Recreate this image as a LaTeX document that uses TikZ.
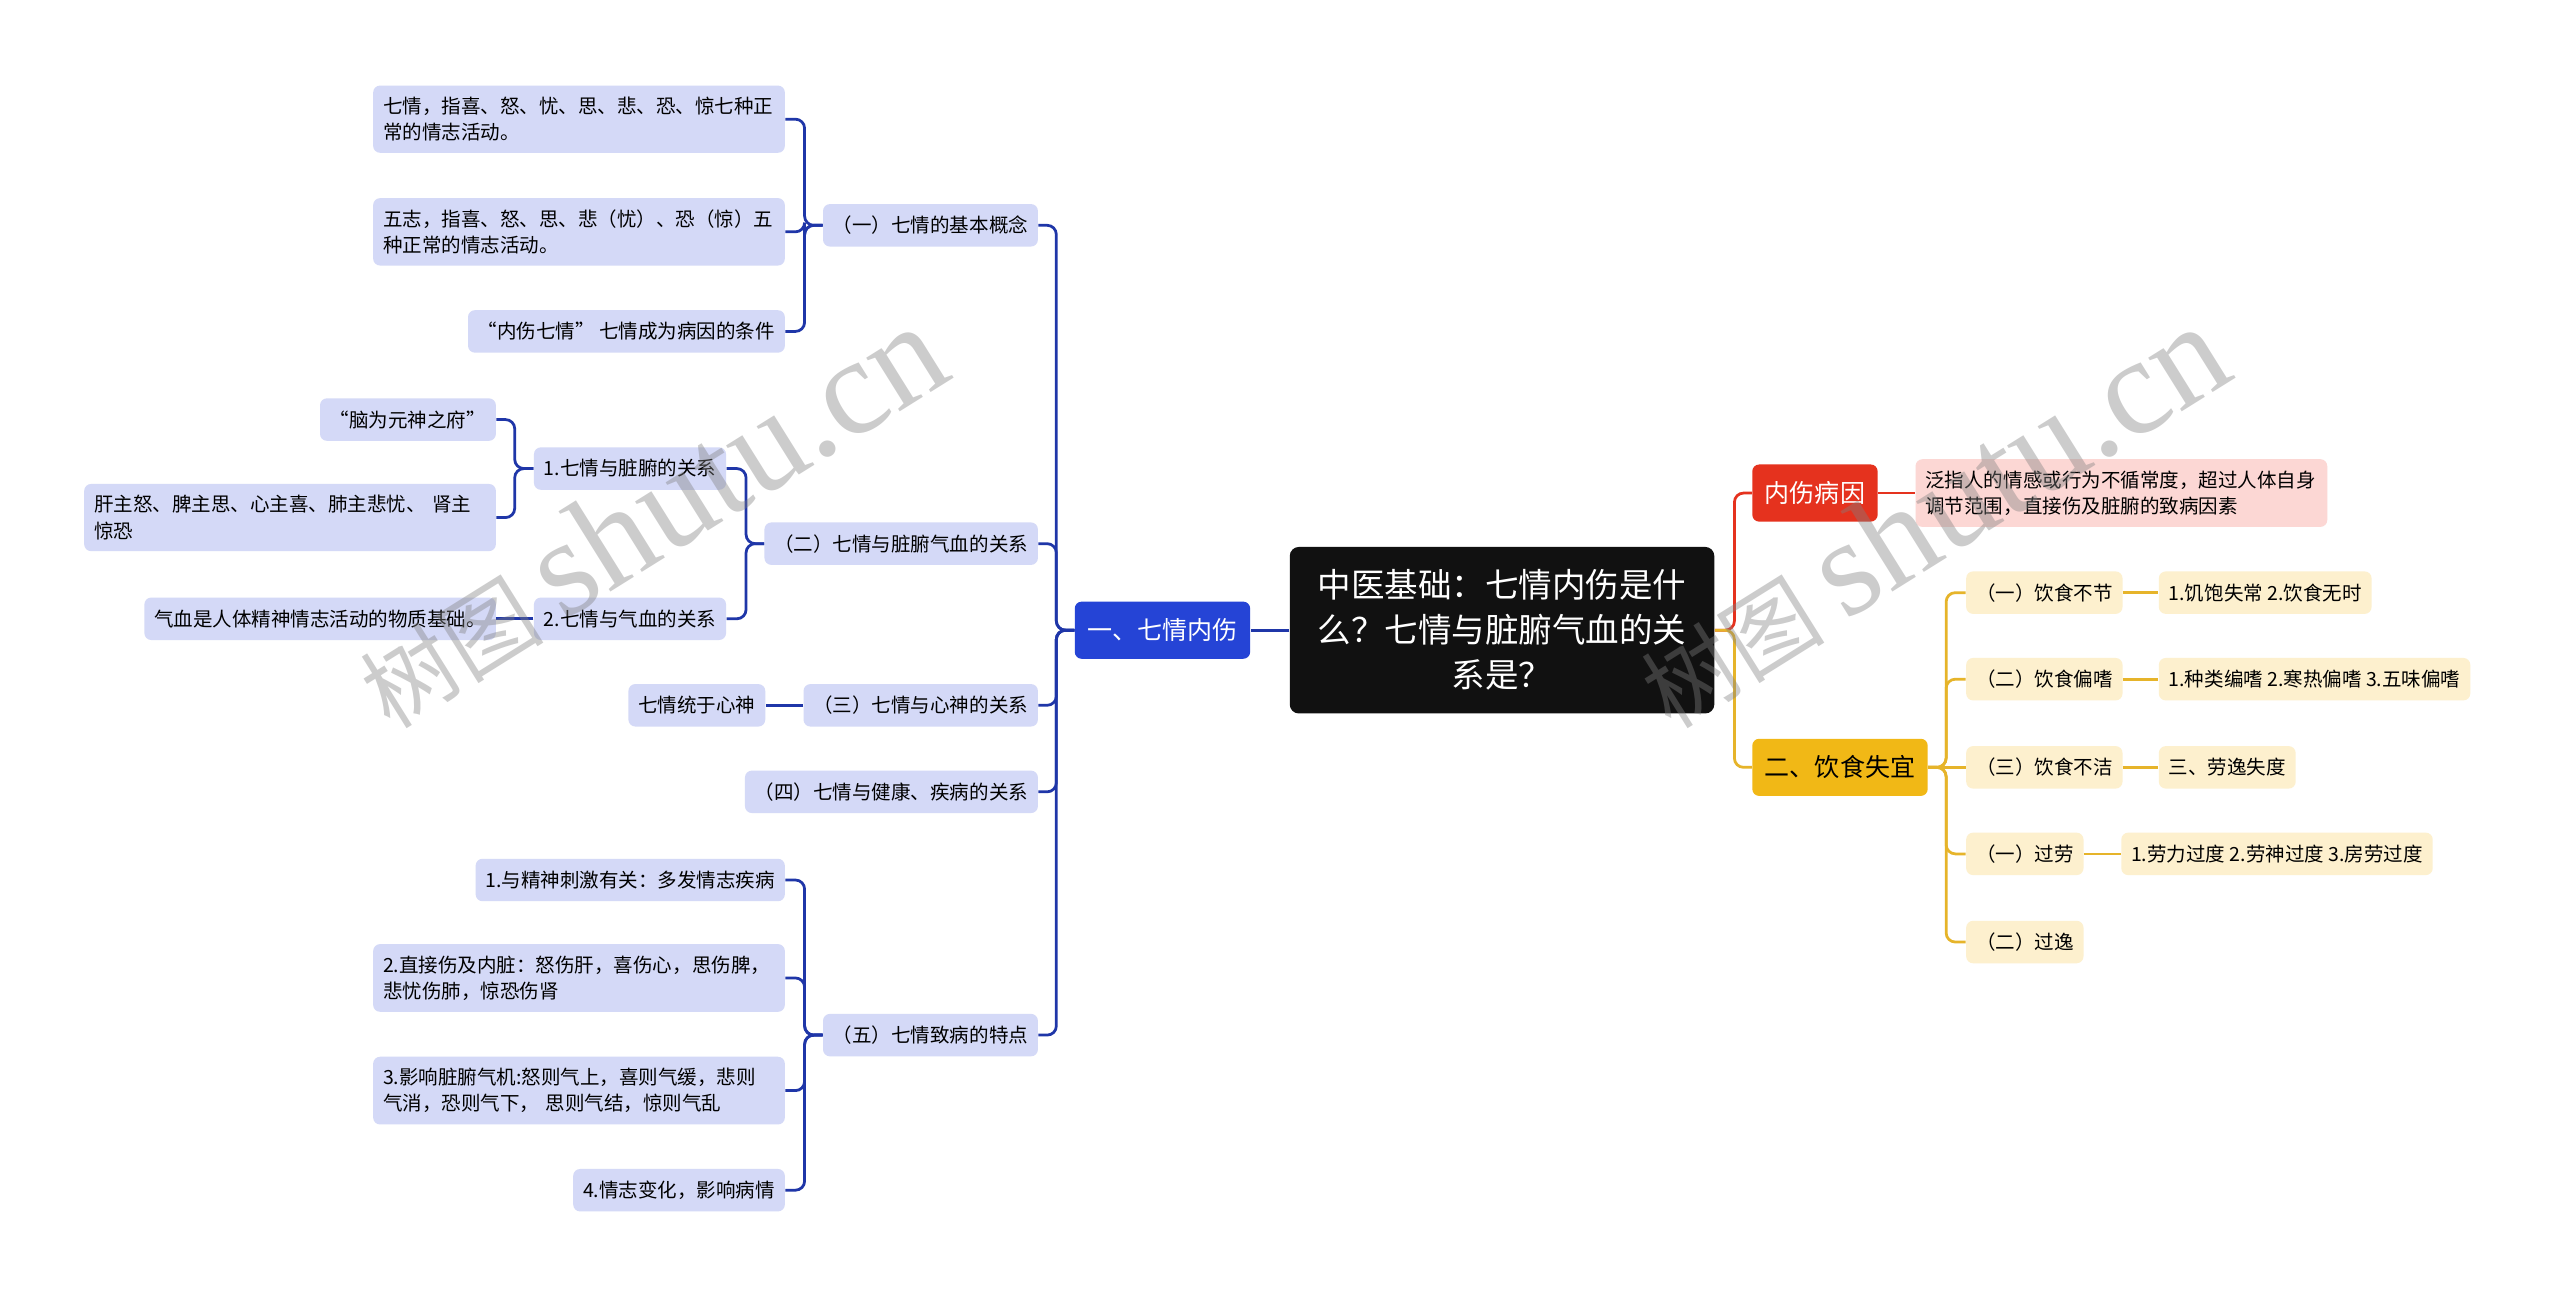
\documentclass[tikz,border=0pt]{standalone}
\usepackage{fontspec}
\setmainfont{Noto Sans CJK SC}
\newfontfamily\wmserif{Liberation Serif}
\usetikzlibrary{positioning}
\definecolor{qroot}{HTML}{111111}
\definecolor{qblue}{HTML}{1F36A8}
\definecolor{qbluefill}{HTML}{2544D6}
\definecolor{qlav}{HTML}{D4D9F7}
\definecolor{qred}{HTML}{E5321E}
\definecolor{qpink}{HTML}{FCD7D4}
\definecolor{qyel}{HTML}{F1B816}
\definecolor{qyline}{HTML}{E6B42A}
\definecolor{qcream}{HTML}{FDF0CE}

\begin{document}
\begin{tikzpicture}[x=0.025cm, y=-0.025cm,
    leaf/.style={fill=#1, rounded corners=3pt, minimum height=0.65cm,
                 inner xsep=4.3pt, inner ysep=5pt, align=left,
                 font=\fontsize{8.5pt}{11.4pt}\selectfont},
    leaf/.default=qlav,
    wide/.style={text width=6cm},
    topic/.style={fill=#1, text=white, rounded corners=3pt, minimum height=0.875cm,
                  inner xsep=5.5pt, font=\fontsize{10.9pt}{13pt}\selectfont},
    link/.style={draw=#1, line width=1.2pt, rounded corners=4pt},
    wmark/.style={text=black!50, opacity=0.4, rotate=32, inner sep=0pt},
]
    \fill[white, use as bounding box] (0,0) rectangle (1568,795);

    % Center
    \node[fill=qroot, text=white, rounded corners=4pt, minimum width=6.5cm, minimum height=2.55cm,
          align=center, font=\fontsize{14.6pt}{19.6pt}\selectfont] (root) at (920,386)
          {中医基础：七情内伤是什\\么？七情与脏腑气血的关\\系是？};

    % Branch one
    \node[topic=qbluefill, anchor=east] (qq) at (766,386) {一、七情内伤};

    \node[leaf, anchor=east] (gn) at (636,138) {（一）七情的基本概念};
    \node[leaf, wide, anchor=east] (gn1) at (481,73) {七情，指喜、怒、忧、思、悲、恐、惊七种正\\常的情志活动。};
    \node[leaf, wide, anchor=east] (gn2) at (481,142) {五志，指喜、怒、思、悲（忧）、恐（惊）五\\种正常的情志活动。};
    \node[leaf, anchor=east] (gn3) at (481,203) {“内伤七情” 七情成为病因的条件};

    \node[leaf, anchor=east] (zf) at (636,333) {（二）七情与脏腑气血的关系};
    \node[leaf, anchor=east] (zf1) at (445,287) {1.七情与脏腑的关系};
    \node[leaf, anchor=east] (zf2) at (445,379) {2.七情与气血的关系};
    \node[leaf, anchor=east] (nao) at (304,257) {“脑为元神之府”};
    \node[leaf, wide, anchor=east] (gan) at (304,317) {肝主怒、脾主思、心主喜、肺主悲忧、 肾主\\惊恐};
    \node[leaf, anchor=east] (qx) at (304,379) {气血是人体精神情志活动的物质基础。};

    \node[leaf, anchor=east] (xs) at (636,432) {（三）七情与心神的关系};
    \node[leaf, anchor=east] (xs1) at (469,432) {七情统于心神};

    \node[leaf, anchor=east] (jk) at (636,485) {（四）七情与健康、疾病的关系};

    \node[leaf, anchor=east] (td) at (636,634) {（五）七情致病的特点};
    \node[leaf, anchor=east] (td1) at (481,539) {1.与精神刺激有关：多发情志疾病};
    \node[leaf, wide, anchor=east] (td2) at (481,599) {2.直接伤及内脏：怒伤肝，喜伤心，思伤脾，\\悲忧伤肺，惊恐伤肾};
    \node[leaf, wide, anchor=east] (td3) at (481,668) {3.影响脏腑气机:怒则气上，喜则气缓，悲则\\气消，恐则气下， 思则气结，惊则气乱};
    \node[leaf, anchor=east] (td4) at (481,729) {4.情志变化，影响病情};

    % Branch two
    \node[topic=qred, anchor=west] (ny) at (1073,302) {内伤病因};
    \node[leaf=qpink, wide, anchor=west] (nyd) at (1173,302) {泛指人的情感或行为不循常度，超过人体自身\\调节范围，直接伤及脏腑的致病因素};

    \node[topic=qyel, text=black, anchor=west] (ys) at (1073,470) {二、饮食失宜};
    \node[leaf=qcream, anchor=west] (ys1) at (1204,363) {（一）饮食不节};
    \node[leaf=qcream, anchor=west] (ys2) at (1204,416) {（二）饮食偏嗜};
    \node[leaf=qcream, anchor=west] (ys3) at (1204,470) {（三）饮食不洁};
    \node[leaf=qcream, anchor=west] (ys4) at (1204,523) {（一）过劳};
    \node[leaf=qcream, anchor=west] (ys5) at (1204,577) {（二）过逸};
    \node[leaf=qcream, anchor=west] (ys1a) at (1322,363) {1.饥饱失常 2.饮食无时};
    \node[leaf=qcream, anchor=west] (ys2a) at (1322,416) {1.种类编嗜 2.寒热偏嗜 3.五味偏嗜};
    \node[leaf=qcream, anchor=west] (ys3a) at (1322,470) {三、劳逸失度};
    \node[leaf=qcream, anchor=west] (ys4a) at (1299,523) {1.劳力过度 2.劳神过度 3.房劳过度};

    % Links
    \draw[link=qblue] (root.west) -- (qq.east);
    \foreach \n in {gn,zf,xs,jk,td}
        \draw[link=qblue] (qq.west) -- ++(-11,0) |- (\n.east);
    \foreach \n in {gn1,gn2,gn3}
        \draw[link=qblue] (gn.west) -- ++(-11,0) |- (\n.east);
    \foreach \n in {zf1,zf2}
        \draw[link=qblue] (zf.west) -- ++(-11,0) |- (\n.east);
    \foreach \n in {nao,gan}
        \draw[link=qblue] (zf1.west) -- ++(-11.5,0) |- (\n.east);
    \draw[link=qblue] (zf2.west) -- (qx.east);
    \draw[link=qblue] (xs.west) -- (xs1.east);
    \foreach \n in {td1,td2,td3,td4}
        \draw[link=qblue] (td.west) -- ++(-11,0) |- (\n.east);

    \draw[link=qred] (root.east) -- ++(12,0) |- (ny.west);
    \draw[link=qyline] (root.east) -- ++(12,0) |- (ys.west);
    \draw[link=qred] (ny.east) -- (nyd.west);
    \foreach \n in {ys1,ys2,ys4,ys5}
        \draw[link=qyline] (ys.east) -- ++(11,0) |- (\n.west);
    \draw[link=qyline] (ys.east) -- (ys3.west);
    \foreach \n in {ys1,ys2,ys3,ys4}
        \draw[link=qyline] (\n.east) -- (\n a.west);

    % Watermark
    \node[wmark] (wm1) at (398,316) {\fontsize{40pt}{44pt}\selectfont 树图 {\wmserif\fontsize{60pt}{64pt}\selectfont shutu.cn}};
    \node[wmark] (wm2) at (1183,316) {\fontsize{40pt}{44pt}\selectfont 树图 {\wmserif\fontsize{60pt}{64pt}\selectfont shutu.cn}};
\end{tikzpicture}
\end{document}
